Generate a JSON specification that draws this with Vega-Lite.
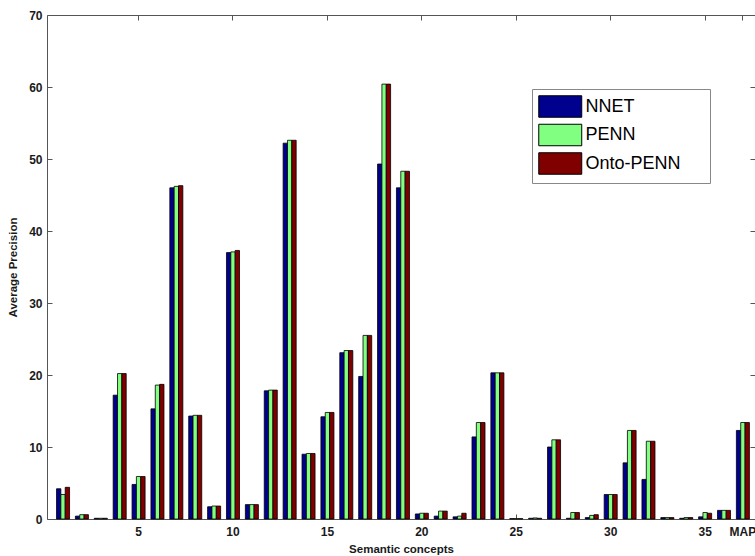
{
  "$schema": "https://vega.github.io/schema/vega-lite/v6.json",
  "width": 708,
  "height": 504,
  "autosize": {"type": "none"},
  "padding": {"left": 47, "top": 15, "right": 0, "bottom": 37},
  "background": "white",
  "config": {
    "view": {"stroke": "#555555", "strokeWidth": 1},
    "font": "Liberation Sans",
    "axis": {
      "domain": false,
      "grid": false,
      "tickColor": "#555555",
      "tickSize": -5,
      "labelFont": "Liberation Sans",
      "labelFontSize": 12,
      "labelFontWeight": "bold",
      "labelColor": "#1a1a1a",
      "titleFont": "Liberation Sans",
      "titleFontSize": 11.5,
      "titleFontWeight": "bold",
      "titleColor": "#1a1a1a"
    }
  },
  "data": {
    "values": [
      {"c": "1", "m": "NNET", "v": 4.2}, {"c": "1", "m": "PENN", "v": 3.4}, {"c": "1", "m": "Onto-PENN", "v": 4.4},
      {"c": "2", "m": "NNET", "v": 0.4}, {"c": "2", "m": "PENN", "v": 0.6}, {"c": "2", "m": "Onto-PENN", "v": 0.6},
      {"c": "3", "m": "NNET", "v": 0.1}, {"c": "3", "m": "PENN", "v": 0.1}, {"c": "3", "m": "Onto-PENN", "v": 0.1},
      {"c": "4", "m": "NNET", "v": 17.2}, {"c": "4", "m": "PENN", "v": 20.2}, {"c": "4", "m": "Onto-PENN", "v": 20.2},
      {"c": "5", "m": "NNET", "v": 4.8}, {"c": "5", "m": "PENN", "v": 5.9}, {"c": "5", "m": "Onto-PENN", "v": 5.9},
      {"c": "6", "m": "NNET", "v": 15.3}, {"c": "6", "m": "PENN", "v": 18.6}, {"c": "6", "m": "Onto-PENN", "v": 18.7},
      {"c": "7", "m": "NNET", "v": 46.0}, {"c": "7", "m": "PENN", "v": 46.2}, {"c": "7", "m": "Onto-PENN", "v": 46.3},
      {"c": "8", "m": "NNET", "v": 14.3}, {"c": "8", "m": "PENN", "v": 14.4}, {"c": "8", "m": "Onto-PENN", "v": 14.4},
      {"c": "9", "m": "NNET", "v": 1.7}, {"c": "9", "m": "PENN", "v": 1.8}, {"c": "9", "m": "Onto-PENN", "v": 1.8},
      {"c": "10", "m": "NNET", "v": 37.0}, {"c": "10", "m": "PENN", "v": 37.1}, {"c": "10", "m": "Onto-PENN", "v": 37.3},
      {"c": "11", "m": "NNET", "v": 2.0}, {"c": "11", "m": "PENN", "v": 2.0}, {"c": "11", "m": "Onto-PENN", "v": 2.0},
      {"c": "12", "m": "NNET", "v": 17.8}, {"c": "12", "m": "PENN", "v": 17.9}, {"c": "12", "m": "Onto-PENN", "v": 17.9},
      {"c": "13", "m": "NNET", "v": 52.2}, {"c": "13", "m": "PENN", "v": 52.6}, {"c": "13", "m": "Onto-PENN", "v": 52.6},
      {"c": "14", "m": "NNET", "v": 9.0}, {"c": "14", "m": "PENN", "v": 9.1}, {"c": "14", "m": "Onto-PENN", "v": 9.1},
      {"c": "15", "m": "NNET", "v": 14.2}, {"c": "15", "m": "PENN", "v": 14.8}, {"c": "15", "m": "Onto-PENN", "v": 14.8},
      {"c": "16", "m": "NNET", "v": 23.1}, {"c": "16", "m": "PENN", "v": 23.4}, {"c": "16", "m": "Onto-PENN", "v": 23.4},
      {"c": "17", "m": "NNET", "v": 19.8}, {"c": "17", "m": "PENN", "v": 25.5}, {"c": "17", "m": "Onto-PENN", "v": 25.5},
      {"c": "18", "m": "NNET", "v": 49.3}, {"c": "18", "m": "PENN", "v": 60.4}, {"c": "18", "m": "Onto-PENN", "v": 60.4},
      {"c": "19", "m": "NNET", "v": 46.0}, {"c": "19", "m": "PENN", "v": 48.3}, {"c": "19", "m": "Onto-PENN", "v": 48.3},
      {"c": "20", "m": "NNET", "v": 0.7}, {"c": "20", "m": "PENN", "v": 0.8}, {"c": "20", "m": "Onto-PENN", "v": 0.8},
      {"c": "21", "m": "NNET", "v": 0.4}, {"c": "21", "m": "PENN", "v": 1.1}, {"c": "21", "m": "Onto-PENN", "v": 1.1},
      {"c": "22", "m": "NNET", "v": 0.3}, {"c": "22", "m": "PENN", "v": 0.4}, {"c": "22", "m": "Onto-PENN", "v": 0.8},
      {"c": "23", "m": "NNET", "v": 11.4}, {"c": "23", "m": "PENN", "v": 13.4}, {"c": "23", "m": "Onto-PENN", "v": 13.4},
      {"c": "24", "m": "NNET", "v": 20.3}, {"c": "24", "m": "PENN", "v": 20.3}, {"c": "24", "m": "Onto-PENN", "v": 20.3},
      {"c": "25", "m": "NNET", "v": 0.05}, {"c": "25", "m": "PENN", "v": 0.05}, {"c": "25", "m": "Onto-PENN", "v": 0.05},
      {"c": "26", "m": "NNET", "v": 0.1}, {"c": "26", "m": "PENN", "v": 0.15}, {"c": "26", "m": "Onto-PENN", "v": 0.1},
      {"c": "27", "m": "NNET", "v": 10.0}, {"c": "27", "m": "PENN", "v": 11.0}, {"c": "27", "m": "Onto-PENN", "v": 11.0},
      {"c": "28", "m": "NNET", "v": 0.1}, {"c": "28", "m": "PENN", "v": 0.9}, {"c": "28", "m": "Onto-PENN", "v": 0.9},
      {"c": "29", "m": "NNET", "v": 0.2}, {"c": "29", "m": "PENN", "v": 0.5}, {"c": "29", "m": "Onto-PENN", "v": 0.6},
      {"c": "30", "m": "NNET", "v": 3.4}, {"c": "30", "m": "PENN", "v": 3.4}, {"c": "30", "m": "Onto-PENN", "v": 3.4},
      {"c": "31", "m": "NNET", "v": 7.8}, {"c": "31", "m": "PENN", "v": 12.3}, {"c": "31", "m": "Onto-PENN", "v": 12.3},
      {"c": "32", "m": "NNET", "v": 5.5}, {"c": "32", "m": "PENN", "v": 10.8}, {"c": "32", "m": "Onto-PENN", "v": 10.8},
      {"c": "33", "m": "NNET", "v": 0.2}, {"c": "33", "m": "PENN", "v": 0.2}, {"c": "33", "m": "Onto-PENN", "v": 0.2},
      {"c": "34", "m": "NNET", "v": 0.1}, {"c": "34", "m": "PENN", "v": 0.2}, {"c": "34", "m": "Onto-PENN", "v": 0.2},
      {"c": "35", "m": "NNET", "v": 0.3}, {"c": "35", "m": "PENN", "v": 0.9}, {"c": "35", "m": "Onto-PENN", "v": 0.8},
      {"c": "36", "m": "NNET", "v": 1.2}, {"c": "36", "m": "PENN", "v": 1.2}, {"c": "36", "m": "Onto-PENN", "v": 1.2},
      {"c": "MAP", "m": "NNET", "v": 12.3}, {"c": "MAP", "m": "PENN", "v": 13.4}, {"c": "MAP", "m": "Onto-PENN", "v": 13.4}
    ]
  },
  "layer": [
    {
      "mark": {"type": "bar", "stroke": "black", "strokeWidth": 0.8},
      "encoding": {
        "x": {
          "field": "c",
          "type": "nominal",
          "scale": {
            "domain": ["1","2","3","4","5","6","7","8","9","10","11","12","13","14","15","16","17","18","19","20","21","22","23","24","25","26","27","28","29","30","31","32","33","34","35","36","MAP"],
            "paddingInner": 0.31,
            "paddingOuter": 0.4,
            "align": 0.63
          },
          "axis": {
            "orient": "bottom",
            "values": ["5","10","15","20","25","30","35","MAP"],
            "labelAngle": 0,
            "labelPadding": 12,
            "title": "Semantic concepts",
            "titlePadding": 6
          }
        },
        "xOffset": {"field": "m", "type": "nominal", "scale": {"domain": ["NNET", "PENN", "Onto-PENN"]}},
        "y": {
          "field": "v",
          "type": "quantitative",
          "scale": {"domain": [0, 70], "nice": false},
          "axis": {
            "orient": "left",
            "values": [0, 10, 20, 30, 40, 50, 60, 70],
            "labelPadding": 10,
            "title": "Average Precision",
            "titlePadding": 10
          }
        },
        "color": {
          "field": "m",
          "type": "nominal",
          "scale": {"domain": ["NNET", "PENN", "Onto-PENN"], "range": ["#00008f", "#80ff80", "#800000"]},
          "legend": {
            "orient": "none",
            "legendX": 485,
            "legendY": 74,
            "title": "—",
            "titleOrient": "right",
            "titleOpacity": 0,
            "titleFontSize": 18,
            "titlePadding": 5,
            "direction": "vertical",
            "symbolType": "M-1,-1H3V1H-1Z",
            "symbolSize": 462,
            "symbolStrokeColor": "black",
            "symbolStrokeWidth": 1,
            "symbolOpacity": 1,
            "labelFont": "Liberation Sans",
            "labelFontSize": 18,
            "labelColor": "black",
            "labelOffset": 24.5,
            "labelLimit": 400,
            "rowPadding": 1.5,
            "padding": 6,
            "strokeColor": "#888888",
            "fillColor": "white"
          }
        }
      }
    },
    {
      "mark": {"type": "bar", "opacity": 0},
      "encoding": {
        "x": {
          "field": "c",
          "type": "nominal",
          "axis": {"orient": "top", "values": ["5","10","15","20","25","30","35","MAP"], "labels": false, "title": null}
        },
        "xOffset": {"field": "m", "type": "nominal"},
        "y": {
          "field": "v",
          "type": "quantitative",
          "axis": {"orient": "right", "values": [0, 10, 20, 30, 40, 50, 60, 70], "labels": false, "title": null}
        }
      }
    }
  ],
  "resolve": {"axis": {"x": "independent", "y": "independent"}}
}
